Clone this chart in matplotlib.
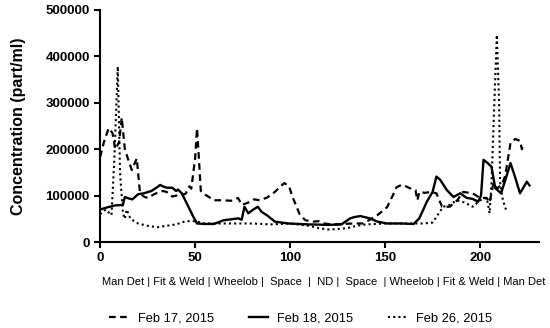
import matplotlib.pyplot as plt

plt.rcParams['font.family'] = ['Liberation Sans', 'DejaVu Sans']

# --- data ---
feb17_x = [0, 2, 4.5, 6.5, 8, 10, 11.4, 13, 15, 16.7, 19.3, 21, 23, 25, 28, 30, 33, 35, 38,
           40, 42, 45, 47, 48, 50, 51, 52, 53, 55, 58, 60, 64, 69, 72.6, 74.6, 78, 81, 84,
           88, 92, 95, 97, 99.5, 101, 102.6, 105, 108, 112, 115, 118, 122, 128, 133, 138,
           142, 146, 151, 154, 156, 158.6, 161, 163, 166, 167, 168, 171, 174, 177, 180,
           184, 188, 191, 196, 200, 203.5, 205, 207, 209, 211.5, 213, 214, 216, 218.4,
           221, 222, 222.8]
feb17_y = [183000, 215000, 245000, 235000, 200000, 215000, 268000, 200000, 175000, 155000,
           180000, 105000, 98000, 95000, 102000, 106000, 110000, 108000, 98000, 100000,
           100000, 104000, 120000, 115000, 180000, 245000, 180000, 110000, 103000, 95000,
           90000, 90000, 89000, 95000, 80000, 85000, 92000, 90000, 96000, 108000, 120000,
           127000, 120000, 100000, 84000, 60000, 47000, 44000, 45000, 40000, 38000, 39000,
           40000, 40000, 48000, 58000, 75000, 100000, 118000, 123000, 120000, 116000,
           112000, 90000, 108000, 106000, 108000, 105000, 76000, 76000, 90000, 108000,
           105000, 95000, 95000, 85000, 127000, 115000, 125000, 140000, 162000, 213000,
           222000, 218000, 200000, 210000]

feb18_x = [0, 4, 8, 12, 13, 15, 17, 20, 23, 27, 30, 31.6, 33, 35, 38, 40, 41, 43, 46, 49,
           51, 55, 60, 65, 69, 72.8, 74.5, 76, 78, 80.6, 83, 85, 87.7, 92, 99, 110, 120,
           127, 131.6, 134, 137, 142, 146, 151, 158, 165, 168, 172, 175, 177, 179, 182.5,
           186, 189.5, 193, 196, 199, 200.5, 201.8, 204, 206, 208, 211, 213, 216, 218.4,
           221, 224.6, 226]
feb18_y = [70000, 75000, 79000, 80000, 97000, 94000, 92000, 103000, 105000, 110000,
           118000, 123000, 120000, 117000, 117000, 110000, 113000, 105000, 80000, 55000,
           40000, 39000, 39000, 47000, 49000, 51000, 48000, 76000, 62000, 70000, 76000,
           65000, 58000, 44000, 40000, 38000, 37000, 38000, 51000, 54000, 56000, 51000,
           44000, 40000, 40000, 39000, 51000, 87000, 108000, 141000, 134000, 112000,
           97000, 105000, 95000, 93000, 87000, 100000, 177000, 170000, 162000, 116000,
           105000, 130000, 170000, 140000, 105000, 130000, 122000]

feb26_x = [0, 3, 6, 7.5, 9.3, 10.5, 12, 13, 14, 16, 20, 25, 30, 35, 40, 45, 50, 55, 60,
           70, 80, 90, 100, 110, 115, 120, 125, 130, 135, 140, 150, 160, 170, 175,
           180.6, 184, 187.7, 192, 196, 200, 203.5, 205, 206, 207.5, 208.8, 210, 210.5,
           212, 214]
feb26_y = [60000, 70000, 58000, 180000, 378000, 150000, 62000, 50000, 70000, 50000,
           40000, 35000, 32000, 35000, 38000, 45000, 45000, 40000, 40000, 40000, 40000,
           38000, 40000, 35000, 30000, 27000, 28000, 30000, 35000, 38000, 40000, 40000,
           40000, 42000, 76000, 80000, 90000, 85000, 76000, 90000, 95000, 62000, 127000,
           300000, 446000, 300000, 130000, 90000, 65000]

series_labels = ["Feb 17, 2015", "Feb 18, 2015", "Feb 26, 2015"]
zone_label = "Man Det | Fit & Weld | Wheelob |  Space  |  ND |  Space  | Wheelob | Fit & Weld | Man Det"

fig = plt.figure(figsize=(5.5, 3.28), dpi=100)
ax = fig.add_axes([0.182, 0.262, 0.798, 0.708])

ax.plot(feb17_x, feb17_y, color='black', lw=1.6, linestyle=(0, (3, 2)), label=series_labels[0])
ax.plot(feb18_x, feb18_y, color='black', lw=1.7, linestyle='-', label=series_labels[1])
ax.plot(feb26_x, feb26_y, color='black', lw=1.5, linestyle=(0, (1, 1.5)), label=series_labels[2])

ax.set_xlim(0, 231)
ax.set_ylim(0, 500000)
ax.set_xticks([0, 50, 100, 150, 200])
ax.set_yticks(range(0, 500001, 100000))
for s in ['top', 'right']:
    ax.spines[s].set_visible(False)
for s in ['left', 'bottom']:
    ax.spines[s].set_linewidth(1.5)
ax.tick_params(direction='out', width=1.5, length=4, labelsize=9.5)
for lab in ax.get_xticklabels() + ax.get_yticklabels():
    lab.set_fontweight('bold')

ax.set_ylabel("Concentration (part/ml)", fontsize=11.5, fontweight='bold', labelpad=14)
fig.text(0.588, 0.14, zone_label, fontsize=8, ha='center', va='center')

fig.legend(loc='center', bbox_to_anchor=(0.547, 0.030), ncol=3, frameon=False,
           fontsize=9.3, handlelength=1.5, handletextpad=0.7, columnspacing=2.7)

fig.savefig("out.png", dpi=100)
